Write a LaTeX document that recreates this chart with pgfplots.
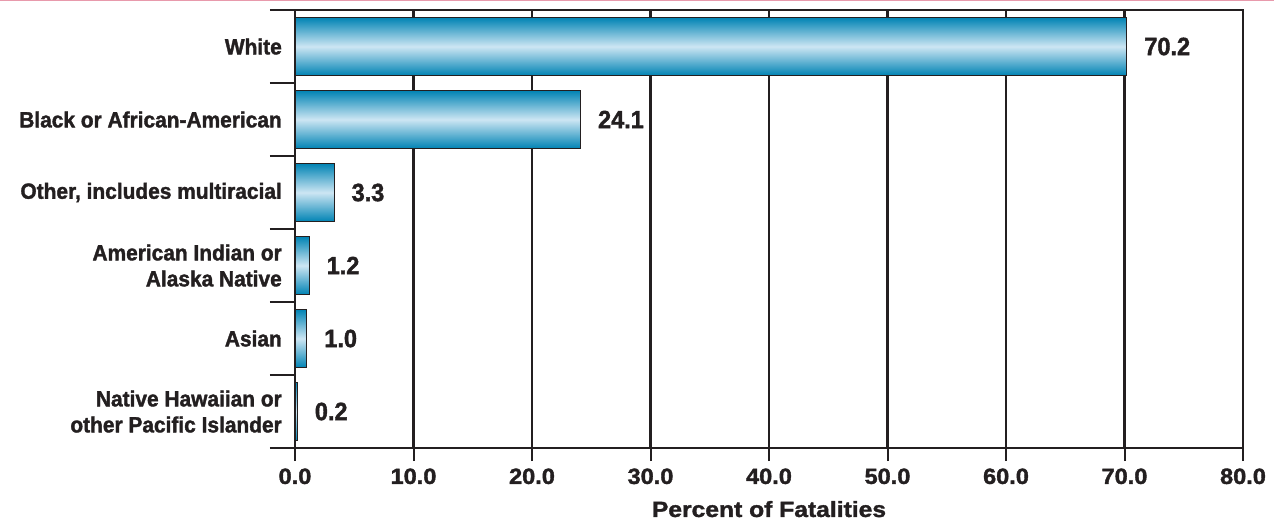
\documentclass[border=0pt]{standalone}
\usepackage{fontspec}
\setmainfont{Liberation Sans}
\newfontfamily\catsans{Liberation Sans}[FakeStretch=0.95, BoldFeatures={FakeBold=1.6}]
\newfontfamily\valsans{Liberation Sans}[FakeStretch=0.94, BoldFeatures={FakeBold=1.6}]
\newfontfamily\ticksans{Liberation Sans}[FakeStretch=1.07, BoldFeatures={FakeBold=1.6}]
\newfontfamily\titlesans{Liberation Sans}[FakeStretch=1.12, BoldFeatures={FakeBold=1.6}]
\usepackage{pgfplots}
\pgfplotsset{compat=1.18}

\definecolor{ink}{HTML}{231F20}
\definecolor{barblue}{HTML}{0083B4}
\definecolor{barlight}{HTML}{CDE6F3}
\definecolor{toprule}{HTML}{E89AAC}

% one bar per category, each shaded on its own
\pgfplotsset{
  gradbar/.style={draw=ink, line width=1pt, bar shift=0pt,
    top color=barblue, bottom color=barblue, middle color=barlight},
}

\begin{document}
\begin{tikzpicture}[x=1pt,y=1pt]
\path[use as bounding box] (0,0) rectangle (1274,520);
\fill[toprule] (0,518.5) rectangle (1274,520);
\begin{axis}[
  at={(295pt,72pt)}, anchor=south west,
  scale only axis, width=948pt, height=438pt,
  xmin=0, xmax=80, ymin=-0.5, ymax=5.5, y dir=reverse,
  xbar, bar width=58pt,
  axis line style={ink, line width=2.6pt},
  xtick={0,10,...,80},
  xticklabels={0.0,10.0,20.0,30.0,40.0,50.0,60.0,70.0,80.0},
  xmajorgrids, major grid style={ink, line width=2.4pt},
  ytick={0,1,2,3,4,5},
  yticklabels={White, Black or African-American, {Other, includes multiracial},
    {American Indian or\\Alaska Native}, Asian,
    {Native Hawaiian or\\other Pacific Islander}},
  minor ytick={-0.5,0.5,...,5.5},
  tick align=outside, tick pos=left,
  major tick length=13pt, minor tick length=25pt,
  tick style={ink, line width=2pt},
  every major y tick/.append style={draw=none},
  x tick label style={font=\ticksans\bfseries\fontsize{22}{26}\selectfont, text=ink,
    yshift=-4pt},
  y tick label style={font=\catsans\bfseries\fontsize{22}{26}\selectfont, text=ink,
    align=right, anchor=east, inner sep=0pt},
  xlabel={Percent of Fatalities},
  xlabel style={font=\titlesans\bfseries\fontsize{22}{26}\selectfont, text=ink,
    yshift=-10pt},
  /pgf/number format/assume math mode=true,
  point meta=x,
  nodes near coords={\pgfmathprintnumber[fixed,fixed zerofill,precision=1]{\pgfplotspointmeta}},
  nodes near coords style={font=\valsans\bfseries\fontsize{25}{28}\selectfont, text=ink,
    anchor=west, inner sep=0pt, xshift=17pt},
]
\addplot[gradbar] coordinates {(70.2,0)};
\addplot[gradbar] coordinates {(24.1,1)};
\addplot[gradbar] coordinates {(3.3,2)};
\addplot[gradbar] coordinates {(1.2,3)};
\addplot[gradbar] coordinates {(1.0,4)};
\addplot[gradbar] coordinates {(0.2,5)};
\end{axis}
\end{tikzpicture}
\end{document}
